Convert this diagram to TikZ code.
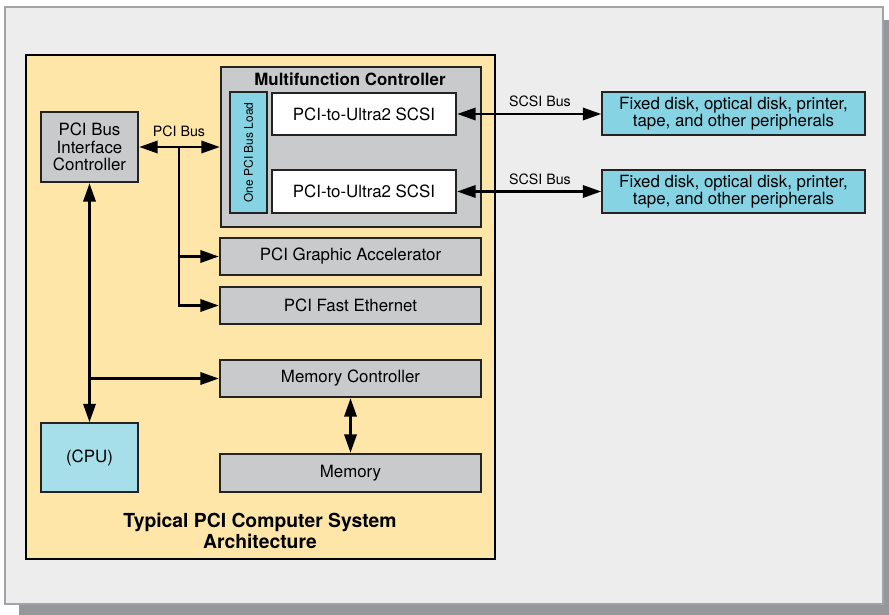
\documentclass[tikz,border=0pt]{standalone}
\usepackage{fontspec}
\setmainfont{TeX Gyre Heros}
\usetikzlibrary{arrows.meta}

\definecolor{panelfill}{HTML}{EDEDED}
\definecolor{panelline}{HTML}{A2A3A6}
\definecolor{shadowgray}{HTML}{96979B}
\definecolor{sysyellow}{HTML}{FEE6A9}
\definecolor{boxgray}{HTML}{C9CACC}
\definecolor{boxline}{HTML}{232323}
\definecolor{periblue}{HTML}{86D3E3}
\definecolor{cpublue}{HTML}{A6DEEA}

\tikzset{
  unitbox/.style={draw=boxline, line width=1.4pt, inner sep=0pt, align=center,
    font=\fontsize{9.6}{9.8}\selectfont},
  graybox/.style={unitbox, fill=boxgray},
  whitebox/.style={unitbox, fill=white},
  bluebox/.style={unitbox, fill=periblue},
  bus/.style={line width=1.4pt, -{Triangle[length=10.5pt,width=7pt]}},
  busboth/.style={line width=1.4pt, {Triangle[length=10.5pt,width=7pt]}-{Triangle[length=10.5pt,width=7pt]}},
  buslabel/.style={font=\fontsize{8.1}{9}\selectfont, inner sep=0pt},
  heading/.style={font=\bfseries\fontsize{9.6}{10}\selectfont, inner sep=0pt}
}

\begin{document}
\begin{tikzpicture}[x=0.02cm, y=-0.02cm]
  \useasboundingbox (0,0) rectangle (889,615);

  % Drawing panel with its shadow
  \fill [shadowgray] (19,20) rectangle (889,615);
  \filldraw [fill=panelfill, draw=panelline, line width=0.9pt] (5,7) rectangle (883,604);

  % Drawing system box
  \filldraw [fill=sysyellow, draw=black, line width=1.6pt] (26,55) rectangle (495,559);
  \node [align=center, inner sep=0pt, font=\bfseries\fontsize{11}{9.8}\selectfont]
    (systitle) at (260,531) {Typical PCI Computer System\\Architecture};

  % Multifunction controller
  \node [graybox, minimum width=5.2cm, minimum height=3.2cm] (mfc) at (351,147) {};
  \node [heading] (mfctitle) at (350,79) {Multifunction Controller};
  \node [bluebox, rotate=90, minimum width=2.42cm, minimum height=0.74cm,
    font=\fontsize{6.8}{7}\selectfont] (load) at (248.5,152.5) {One PCI Bus Load};
  \node [whitebox, minimum width=3.68cm, minimum height=0.85cm] (scsiA) at (364,114) {PCI-to-Ultra2 SCSI};
  \node [whitebox, minimum width=3.68cm, minimum height=0.85cm] (scsiB) at (364,191.5) {PCI-to-Ultra2 SCSI};

  % PCI devices
  \node [graybox, minimum width=1.94cm, minimum height=1.4cm] (bic) at (89.5,147) {PCI Bus\\Interface\\Controller};
  \node [graybox, minimum width=5.22cm, minimum height=0.74cm] (gfx) at (350.5,256.5) {PCI Graphic Accelerator};
  \node [graybox, minimum width=5.22cm, minimum height=0.74cm] (eth) at (350.5,305.5) {PCI Fast Ethernet};
  \node [graybox, minimum width=5.22cm, minimum height=0.74cm] (memc) at (350.5,378.5) {Memory Controller};
  \node [graybox, minimum width=5.22cm, minimum height=0.76cm] (mem) at (350.5,473) {Memory};
  \node [unitbox, fill=cpublue, line width=0.9pt, minimum width=1.94cm,
    minimum height=1.38cm] (cpu) at (89.5,457.5) {(CPU)};

  % Peripherals
  \node [bluebox, line width=0.9pt, minimum width=5.26cm, minimum height=0.86cm] (periA) at (733.5,113.5)
    {Fixed disk, optical disk, printer,\\tape, and other peripherals};
  \node [bluebox, line width=0.9pt, minimum width=5.26cm, minimum height=0.86cm] (periB) at (733.5,191.5)
    {Fixed disk, optical disk, printer,\\tape, and other peripherals};

  % Drawing PCI bus
  \coordinate (tap) at (179,147);
  \draw [busboth] (bic.east) -- (mfc.west);
  \node [buslabel] (pcilabel) at (179,131) {PCI Bus};
  \draw [bus] (tap) |- (eth.west);
  \draw [bus] (tap |- gfx.west) -- (gfx.west);

  % Drawing CPU and memory links
  \draw [busboth] (bic.south) -- (cpu.north);
  \draw [bus] (bic.south |- memc.west) -- (memc.west);
  \draw [busboth] (memc.south) -- (mem.north);

  % Drawing SCSI buses
  \draw [busboth] (scsiA.east) -- (scsiA.east -| periA.west);
  \node [buslabel] (scsilabelA) at (540,101) {SCSI Bus};
  \draw [busboth] (scsiB.east) -- (scsiB.east -| periB.west);
  \node [buslabel] (scsilabelB) at (540,179) {SCSI Bus};
\end{tikzpicture}
\end{document}
